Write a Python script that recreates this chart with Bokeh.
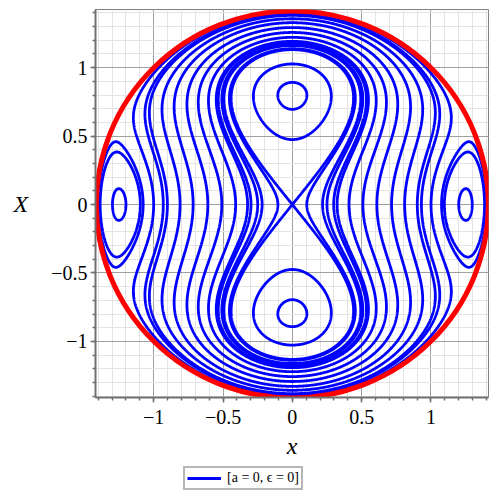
import numpy as np
from bokeh.plotting import figure
from bokeh.layouts import column
from bokeh.models import SingleIntervalTicker, Legend, LegendItem, Range1d
from bokeh.embed import file_html
from bokeh.resources import INLINE

# Reduced Hamiltonian H(x, X) on the disk x^2 + X^2 <= 2 (coefficients read from the
# positions of the equilibria in the picture)
coef_A = 0.889
coef_B = -1.389
coef_D = -1.0
boundary_radius = np.sqrt(2.0)
boundary_center_x = [0.0]
boundary_center_y = [0.0]

# contour levels (energy values of the drawn orbits)
lobe_levels = [-1.535, -1.33]
separatrix_levels = [-1.0]
outer_levels = [-0.97, -0.87, -0.83, -0.76, -0.72, -0.56, -0.34, -0.09,
                0.19, 0.44, 0.67, 0.74, 0.89]
island_levels = [1.025, 1.055, 1.157]

tick_values = [-1, -0.5, 0, 0.5, 1]
tick_labels = ["\u22121", "\u22120.5", "0", "0.5", "1"]
x_label = "x"
y_label = "X"
legend_label = "[a = 0, \u03f5 = 0]"

# grid for the level curves
n = 900
gx = np.linspace(-boundary_radius, boundary_radius, n)
gy = np.linspace(-boundary_radius, boundary_radius, n)
XX, YY = np.meshgrid(gx, gy)
R2 = XX**2 + YY**2
H = (2.0 - R2) * (coef_A * XX**2 + coef_B * YY**2) + coef_D * (1.0 - R2)
H[R2 > 2.0] = np.nan

levels = sorted(lobe_levels + separatrix_levels + outer_levels + island_levels)

p = figure(width=492, height=466, output_backend="svg", toolbar_location=None,
           x_range=Range1d(-1.42, 1.415), y_range=Range1d(-1.41, 1.425),
           min_border_left=95, min_border_right=4, min_border_top=9, min_border_bottom=69,
           background_fill_color="white", border_fill_color="white")

cr = p.contour(gx, gy, H, levels=levels, line_color="#0000ff", line_width=2.8)

p.ellipse(x=boundary_center_x, y=boundary_center_y,
          width=[2 * boundary_radius], height=[2 * boundary_radius],
          fill_color=None, line_color="#ff0000", line_width=5)

for ax in (p.xaxis[0], p.yaxis[0]):
    ax.ticker = SingleIntervalTicker(interval=0.5, num_minor_ticks=5)
    ax.major_label_overrides = dict(zip(tick_values, tick_labels))
    ax.major_label_text_font = "Liberation Serif"
    ax.major_label_text_font_size = "20px"
    ax.major_label_text_color = "black"
    ax.axis_line_color = "#707070"
    ax.axis_line_width = 2
    ax.major_tick_line_color = "#707070"
    ax.minor_tick_line_color = "#707070"
    ax.major_tick_line_width = 1.5
    ax.minor_tick_line_width = 1.5
    ax.major_tick_out = 5
    ax.major_tick_in = 0
    ax.minor_tick_out = 3
    ax.minor_tick_in = 0
    ax.axis_label_text_font = "Liberation Serif"
    ax.axis_label_text_font_style = "italic"
    ax.axis_label_text_font_size = "24px"
    ax.axis_label_text_color = "black"

p.xaxis.axis_label = x_label
p.yaxis.axis_label = y_label
p.yaxis.axis_label_orientation = "horizontal"
p.xaxis.major_label_standoff = 7
p.yaxis.major_label_standoff = 3
p.xaxis.axis_label_standoff = 6
p.yaxis.axis_label_standoff = 20

for g in (p.xgrid[0], p.ygrid[0]):
    g.grid_line_color = "#a0a0a0"
    g.grid_line_width = 1
    g.minor_grid_line_color = "#e4e4e4"
    g.minor_grid_line_width = 1

p.outline_line_color = "#808080"
p.outline_line_width = 1

# legend strip under the plot (its frame is aligned with the plot frame above)
q = figure(width=492, height=34, output_backend="svg", toolbar_location=None,
           x_range=Range1d(0, 1), y_range=Range1d(0, 1),
           min_border_left=0, min_border_right=0, min_border_top=0, min_border_bottom=0,
           background_fill_color="white", border_fill_color="white")
q.axis.visible = False
q.grid.visible = False
q.outline_line_color = None
proxy = q.multi_line(xs=[[]], ys=[[]], line_color="#0000ff", line_width=3)

legend = Legend(items=[LegendItem(label=legend_label, renderers=[proxy])],
                location=(88, 10), orientation="horizontal",
                label_text_font="Liberation Serif", label_text_font_size="14px",
                label_text_color="black",
                glyph_width=34, glyph_height=12, label_standoff=6, padding=2, margin=0,
                border_line_color="#707070", border_line_width=2,
                background_fill_color="white", label_height=12)
q.add_layout(legend, "center")

layout = column(p, q, spacing=0)
open("out.html", "w").write(file_html(layout, INLINE))
